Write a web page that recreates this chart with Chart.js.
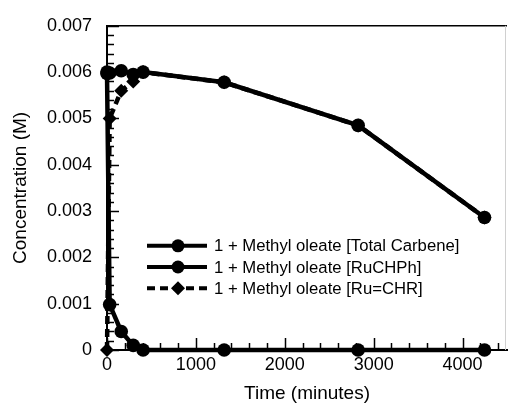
<!DOCTYPE html>
<html>
<head>
<meta charset="utf-8">
<script src="https://cdn.jsdelivr.net/npm/chart.js@4.4.1/dist/chart.umd.min.js"></script>
<style>
  body { margin: 0; background: #fff; }
  canvas { display: block; }
</style>
</head>
<body>
<canvas id="graficoCarbeno" width="514" height="405"></canvas>
<script>
var tempos = [0, 30, 160, 295, 406, 1318, 2825, 4247];
var carbenoTotal = [0.00597, 0.00598, 0.00603, 0.00595, 0.006, 0.00578, 0.00485, 0.00286];
var ruCHPh = [0.006, 0.00098, 0.0004, 0.0001, 0.0, 0.0, 0.0, 0.0];
var ruCHR = [0, 0.005, 0.0056, 0.0058, 0.006, 0.00578, 0.00485, 0.00286];
var rotulos = ['1 + Methyl oleate [Total Carbene]', '1 + Methyl oleate [RuCHPh]', '1 + Methyl oleate [Ru=CHR]'];
var ticksX = [0, 1000, 2000, 3000, 4000];
var ticksY = [0, 0.001, 0.002, 0.003, 0.004, 0.005, 0.006, 0.007];

var fonte = '"Liberation Sans", Arial, sans-serif';

function pontos(xs, ys) {
    return xs.map(function(x, i) { return { x: x, y: ys[i] }; });
}

// tracinhos para dentro, bordas e legenda dentro do grafico
var extras = {
    id: 'extras',
    afterDatasetsDraw: function(chart) {
        var ctx = chart.ctx;
        var area = chart.chartArea;
        var sx = chart.scales.x;
        var sy = chart.scales.y;
        ctx.save();
        ctx.strokeStyle = '#000';
        ctx.lineWidth = 1.5;
        for (var i = 0; i <= 35; i++) {
            var v = i * 0.0002;
            var py = Math.round(sy.getPixelForValue(v)) + 0.5;
            var len = (i % 5 === 0) ? 12 : 7;
            ctx.beginPath();
            ctx.moveTo(area.left, py);
            ctx.lineTo(area.left + len, py);
            ctx.stroke();
        }
        for (var j = 0; j <= 22; j++) {
            var vx = j * 200;
            var px = Math.round(sx.getPixelForValue(vx)) + 0.5;
            var lx = (j % 5 === 0) ? 12 : 7;
            ctx.beginPath();
            ctx.moveTo(px, area.bottom);
            ctx.lineTo(px, area.bottom - lx);
            ctx.stroke();
        }
        // borda de cima
        ctx.lineWidth = 1.5;
        ctx.beginPath();
        ctx.moveTo(area.left, area.top);
        ctx.lineTo(area.right, area.top);
        ctx.stroke();
        // borda direita clara
        ctx.strokeStyle = '#d0d0d0';
        ctx.lineWidth = 1;
        ctx.beginPath();
        ctx.moveTo(area.right - 1.5, area.top);
        ctx.lineTo(area.right - 1.5, area.bottom);
        ctx.stroke();

        // legenda
        var lx0 = area.left + 40;
        var ly0 = area.top + 220;
        chart.data.datasets.forEach(function(ds, k) {
            var y = ly0 + k * 21.2;
            ctx.strokeStyle = '#000';
            ctx.lineWidth = 4;
            ctx.setLineDash(ds.borderDash || []);
            ctx.beginPath();
            ctx.moveTo(lx0, y);
            ctx.lineTo(lx0 + 60, y);
            ctx.stroke();
            ctx.setLineDash([]);
            ctx.fillStyle = '#000';
            ctx.beginPath();
            if (ds.pointStyle === 'rectRot') {
                ctx.moveTo(lx0 + 31, y - 7);
                ctx.lineTo(lx0 + 38, y);
                ctx.lineTo(lx0 + 31, y + 7);
                ctx.lineTo(lx0 + 24, y);
                ctx.closePath();
            } else {
                ctx.arc(lx0 + 31, y, 6.5, 0, Math.PI * 2);
            }
            ctx.fill();
            ctx.font = '16.7px ' + fonte;
            ctx.textBaseline = 'middle';
            ctx.fillText(ds.label, lx0 + 67, y + 1);
        });
        ctx.restore();
    }
};

document.addEventListener('DOMContentLoaded', function() {
    var contexto = document.getElementById('graficoCarbeno').getContext('2d');

    window.meuGrafico = new Chart(contexto, {
        type: 'line',
        data: {
            datasets: [
                {
                    label: rotulos[0],
                    data: pontos(tempos, carbenoTotal),
                    borderColor: '#000',
                    backgroundColor: '#000',
                    borderWidth: 4.5,
                    pointStyle: 'circle',
                    pointRadius: 6.8,
                    pointBorderWidth: 0,
                    clip: false,
                    fill: false
                },
                {
                    label: rotulos[1],
                    data: pontos(tempos, ruCHPh),
                    borderColor: '#000',
                    backgroundColor: '#000',
                    borderWidth: 4.5,
                    pointStyle: 'circle',
                    pointRadius: 6.8,
                    pointBorderWidth: 0,
                    clip: false,
                    fill: false
                },
                {
                    label: rotulos[2],
                    data: pontos(tempos, ruCHR),
                    borderColor: '#000',
                    backgroundColor: '#000',
                    borderWidth: 4.5,
                    borderDash: [8, 5],
                    pointStyle: 'rectRot',
                    pointRadius: 7,
                    pointBorderWidth: 0,
                    clip: false,
                    fill: false
                }
            ]
        },
        options: {
            responsive: false,
            animation: false,
            devicePixelRatio: 1,
            layout: {
                padding: { top: 25, right: 0, left: 0, bottom: 0 }
            },
            plugins: {
                legend: { display: false },
                tooltip: { enabled: false }
            },
            scales: {
                x: {
                    type: 'linear',
                    min: 0,
                    max: 4500,
                    afterFit: function(scale) { scale.height = 55; },
                    afterBuildTicks: function(scale) {
                        scale.ticks = ticksX.map(function(v) { return { value: v }; });
                    },
                    ticks: {
                        color: '#000',
                        padding: 4,
                        maxRotation: 0,
                        font: { size: 18, family: fonte },
                        callback: function(v) { return String(v); }
                    },
                    grid: { display: false, drawTicks: false },
                    border: { display: true, color: '#000', width: 2 },
                    title: {
                        display: true,
                        text: 'Time (minutes)',
                        color: '#000',
                        font: { size: 19, family: fonte },
                        padding: { top: 0, bottom: 0 }
                    }
                },
                y: {
                    type: 'linear',
                    min: 0,
                    max: 0.007,
                    afterFit: function(scale) { scale.width = 107; },
                    afterBuildTicks: function(scale) {
                        scale.ticks = ticksY.map(function(v) { return { value: v }; });
                    },
                    ticks: {
                        color: '#000',
                        padding: 15,
                        font: { size: 18, family: fonte },
                        callback: function(v) { return v === 0 ? '0' : v.toFixed(3); }
                    },
                    grid: { display: false, drawTicks: false },
                    border: { display: true, color: '#000', width: 2 },
                    title: {
                        display: true,
                        text: 'Concentration (M)',
                        color: '#000',
                        font: { size: 19, family: fonte },
                        padding: { top: 9, bottom: 0 }
                    }
                }
            }
        },
        plugins: [extras]
    });
});
</script>
</body>
</html>
